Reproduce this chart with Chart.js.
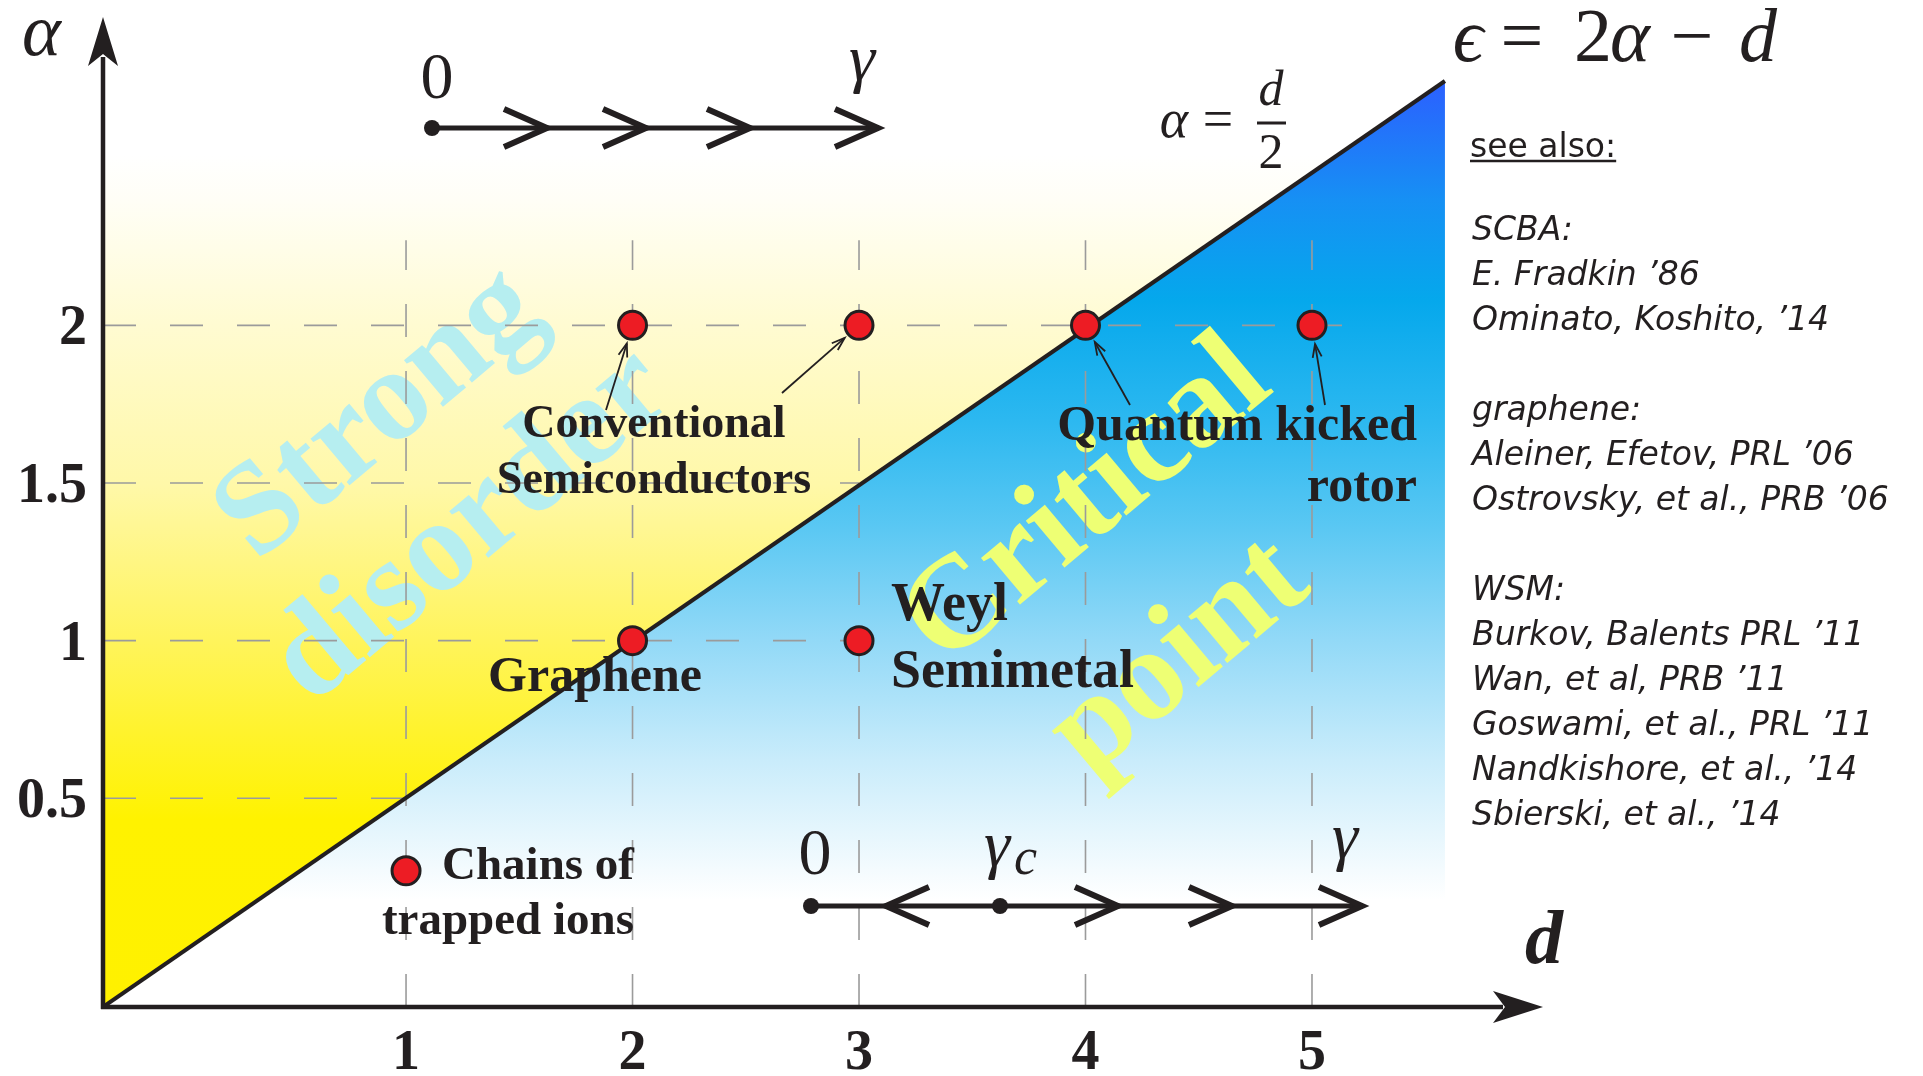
<!DOCTYPE html>
<html>
<head>
<meta charset="utf-8">
<script src="https://cdn.jsdelivr.net/npm/chart.js@4.4.1/dist/chart.umd.min.js"></script>
<style>
html, body { margin: 0; padding: 0; background: #fff; }
#wrap { width: 1923px; height: 1076px; position: relative; }
</style>
</head>
<body>
<div id="wrap"><canvas id="phase-chart"></canvas></div>
<script>
// values
const pointD = [2, 3, 4, 5, 2, 3, 1];
const pointAlpha = [2, 2, 2, 2, 1, 1, 0.27];
const lineD = [-0.338, 5.587];
const lineAlpha = [-0.162, 2.775];
const dTicks = [1, 2, 3, 4, 5];
const dTickLabels = ['1', '2', '3', '4', '5'];
const alphaTicks = [0.5, 1, 1.5, 2];
const alphaTickLabels = ['0.5', '1', '1.5', '2'];
const refLines = ['SCBA:', 'E. Fradkin \u201986', 'Ominato, Koshito, \u201914', '',
    'graphene:', 'Aleiner, Efetov, PRL \u201906', 'Ostrovsky, et al., PRB \u201906', '',
    'WSM:', 'Burkov, Balents PRL \u201911', 'Wan, et al, PRB \u201911', 'Goswami, et al., PRL \u201911',
    'Nandkishore, et al., \u201914', 'Sbierski, et al., \u201914'];

const ink = '#231F20';
const serif = '"Liberation Serif", "DejaVu Serif", serif';
const gridEnds = [1, 3, 3, 5.28];

function linePoints() {
    return lineD.map((d, i) => ({x: d, y: lineAlpha[i]}));
}

// vertical gradients, stops given as pixel rows of the chart area
function vGradient(chart, stops) {
    const area = chart.chartArea;
    if (!area) return null;
    const g = chart.ctx.createLinearGradient(0, area.bottom, 0, area.top);
    const h = area.bottom - area.top;
    stops.forEach(s => g.addColorStop(Math.min(1, Math.max(0, (area.bottom - s[0]) / h)), s[1]));
    return g;
}

function chevron(c, x, y, dir) {
    c.beginPath();
    c.moveTo(x - dir * 43, y - 19);
    c.lineTo(x, y);
    c.lineTo(x - dir * 43, y + 19);
    c.stroke();
}

function dot(c, x, y, r) {
    c.beginPath();
    c.arc(x, y, r, 0, Math.PI * 2);
    c.fill();
}

function pointer(c, x0, y0, x1, y1) {
    const ang = Math.atan2(y1 - y0, x1 - x0);
    c.beginPath(); c.moveTo(x0, y0); c.lineTo(x1, y1); c.stroke();
    c.beginPath();
    c.moveTo(x1 - 14 * Math.cos(ang - 0.33), y1 - 14 * Math.sin(ang - 0.33));
    c.lineTo(x1, y1);
    c.lineTo(x1 - 14 * Math.cos(ang + 0.33), y1 - 14 * Math.sin(ang + 0.33));
    c.stroke();
}

function tilted(c, text, x, y, deg, font, color) {
    c.save();
    c.translate(x, y);
    c.rotate(deg * Math.PI / 180);
    c.font = font; c.fillStyle = color;
    c.textAlign = 'center'; c.textBaseline = 'middle';
    c.fillText(text, 0, 0);
    c.restore();
}

function say(c, text, x, y, font, align) {
    c.font = font; c.textAlign = align || 'left';
    c.fillText(text, x, y);
}

const backdrop = {
    id: 'backdrop',
    beforeDatasetsDraw(chart) {
        const c = chart.ctx, sx = chart.scales.x, sy = chart.scales.y;
        c.save();
        // big faint words
        const wf = 'bold 132px ' + serif;
        tilted(c, 'Strong', 380, 415, -40, wf, '#B6EEF0');
        tilted(c, 'disorder', 472, 527, -40, wf, '#B6EEF0');
        tilted(c, 'Critical', 1088, 503, -40, wf, '#EEFF74');
        tilted(c, 'point', 1180, 658, -40, wf, '#EEFF74');

        // dashed guide lines
        c.strokeStyle = '#9B9B9B';
        c.lineWidth = 1.6;
        c.setLineDash([33, 34]);
        dTicks.forEach(d => {
            const X = sx.getPixelForValue(d);
            c.beginPath();
            c.moveTo(X, sy.getPixelForValue(sy.min));
            c.lineTo(X, sy.getPixelForValue(2.27));
            c.stroke();
        });
        alphaTicks.forEach((a, i) => {
            const Y = sy.getPixelForValue(a);
            c.beginPath();
            c.moveTo(sx.getPixelForValue(sx.min), Y);
            c.lineTo(sx.getPixelForValue(gridEnds[i]), Y);
            c.stroke();
        });
        c.restore();
    },
    afterDatasetsDraw(chart) {
        const c = chart.ctx, sx = chart.scales.x, sy = chart.scales.y;
        const ca = chart.chartArea;
        c.save();
        c.strokeStyle = ink; c.fillStyle = ink;

        // axes with arrow heads
        c.lineWidth = 4.5;
        c.beginPath();
        c.moveTo(ca.left, ca.bottom + 2); c.lineTo(ca.left, ca.top + 40);
        c.moveTo(ca.left - 2, ca.bottom); c.lineTo(ca.right - 40, ca.bottom);
        c.stroke();
        c.beginPath();
        c.moveTo(ca.left, ca.top); c.lineTo(ca.left + 15, ca.top + 49);
        c.lineTo(ca.left, ca.top + 37); c.lineTo(ca.left - 15, ca.top + 49);
        c.closePath(); c.fill();
        c.beginPath();
        c.moveTo(ca.right, ca.bottom); c.lineTo(ca.right - 50, ca.bottom - 16);
        c.lineTo(ca.right - 38, ca.bottom); c.lineTo(ca.right - 50, ca.bottom + 16);
        c.closePath(); c.fill();

        // tick labels
        const tf = 'bold 56px ' + serif;
        dTicks.forEach((d, i) => say(c, dTickLabels[i], sx.getPixelForValue(d), ca.bottom + 62, tf, 'center'));
        alphaTicks.forEach((a, i) => say(c, alphaTickLabels[i], ca.left - 16, sy.getPixelForValue(a) + 19, tf, 'right'));

        // axis names
        say(c, '\u03B1', 22, 55, 'italic 74px ' + serif);
        say(c, 'd', 1525, 963, 'bold italic 76px ' + serif);

        // flow diagrams
        c.lineWidth = 5;
        c.beginPath(); c.moveTo(432, 128); c.lineTo(877, 128); c.stroke();
        dot(c, 432, 128, 8);
        c.lineWidth = 6;
        [547, 646, 750, 878].forEach(x => chevron(c, x, 128, 1));
        say(c, '0', 437, 98, '66px ' + serif, 'center');
        say(c, '\u03B3', 862, 80, 'italic 66px ' + serif, 'center');

        c.lineWidth = 5;
        c.beginPath(); c.moveTo(811, 906); c.lineTo(1360, 906); c.stroke();
        dot(c, 811, 906, 8);
        dot(c, 1000, 906, 8);
        c.lineWidth = 6;
        chevron(c, 886, 906, -1);
        [1118, 1232, 1362].forEach(x => chevron(c, x, 906, 1));
        say(c, '0', 815, 874, '66px ' + serif, 'center');
        say(c, '\u03B3', 997, 866, 'italic 66px ' + serif, 'center');
        say(c, 'c', 1014, 874, 'italic 52px ' + serif);
        say(c, '\u03B3', 1345, 858, 'italic 66px ' + serif, 'center');

        // thin pointers to the dots
        c.lineWidth = 1.8;
        [[606, 410, 0], [782, 393, 1], [1130, 405, 2], [1325, 405, 3]].forEach(p => {
            const tx = sx.getPixelForValue(pointD[p[2]]), ty = sy.getPixelForValue(pointAlpha[p[2]]);
            const ang = Math.atan2(ty - p[1], tx - p[0]);
            pointer(c, p[0], p[1], tx - 19 * Math.cos(ang), ty - 19 * Math.sin(ang));
        });

        // region labels
        const lf = 'bold 46px ' + serif;
        say(c, 'Conventional', 654, 437, lf, 'center');
        say(c, 'Semiconductors', 654, 493, lf, 'center');
        say(c, 'Graphene', 595, 691, 'bold 50px ' + serif, 'center');
        say(c, 'Chains of', 634, 879, 'bold 47px ' + serif, 'right');
        say(c, 'trapped ions', 634, 934, 'bold 47px ' + serif, 'right');
        say(c, 'Weyl', 891, 620, 'bold 54px ' + serif);
        say(c, 'Semimetal', 891, 687, 'bold 54px ' + serif);
        say(c, 'Quantum kicked', 1417, 440, 'bold 50px ' + serif, 'right');
        say(c, 'rotor', 1417, 501, 'bold 50px ' + serif, 'right');

        // formulas
        const mf = '76px ' + serif, mi = 'italic 76px ' + serif;
        say(c, '\u03F5', 1468, 61, mi, 'center');
        say(c, '=', 1522, 61, mf, 'center');
        say(c, '2', 1593, 61, mf, 'center');
        say(c, '\u03B1', 1630, 61, mi, 'center');
        say(c, '\u2212', 1692, 61, mf, 'center');
        say(c, 'd', 1758, 61, mi, 'center');

        say(c, '\u03B1', 1174, 137, 'italic 54px ' + serif, 'center');
        say(c, '=', 1218, 137, '54px ' + serif, 'center');
        say(c, 'd', 1271, 105, 'italic 50px ' + serif, 'center');
        say(c, '2', 1271, 168, '50px ' + serif, 'center');
        c.lineWidth = 3;
        c.beginPath(); c.moveTo(1257, 123); c.lineTo(1286, 123); c.stroke();

        // references
        c.font = '33px "DejaVu Sans", sans-serif';
        c.textAlign = 'left';
        c.fillText('see also:', 1470, 157);
        const w = c.measureText('see also:').width;
        c.lineWidth = 2.5;
        c.beginPath(); c.moveTo(1470, 161); c.lineTo(1470 + w, 161); c.stroke();
        c.font = 'oblique 33px "DejaVu Sans", sans-serif';
        refLines.forEach((t, i) => { if (t) c.fillText(t, 1472, 240 + i * 45); });
        c.restore();
    }
};

const canva = document.getElementById('phase-chart');

const data = {
    datasets: [{
        label: 'cases',
        data: pointD.map((d, i) => ({x: d, y: pointAlpha[i]})),
        backgroundColor: '#ED1C24',
        borderColor: ink,
        borderWidth: 3,
        pointRadius: 14,
        showLine: false
    }, {
        type: 'line',
        label: 'alpha = d/2',
        data: linePoints(),
        borderColor: ink,
        borderWidth: 4,
        pointRadius: 0,
        fill: 'start',
        backgroundColor: ctx => vGradient(ctx.chart, [
            [900, '#FFFFFF'], [870, '#F4FBFE'], [760, '#C9ECFB'], [640, '#92D9F7'],
            [530, '#5BC8F3'], [420, '#2CB8F0'], [300, '#05A8EC'], [200, '#1690F4'], [79, '#2C5FFF']
        ])
    }, {
        type: 'line',
        label: 'upper side',
        data: linePoints(),
        borderWidth: 0,
        pointRadius: 0,
        fill: 'end',
        backgroundColor: ctx => vGradient(ctx.chart, [
            [1007, '#FFF100'], [820, '#FFF200'], [640, '#FFF45C'], [486, '#FFF8A8'],
            [323, '#FFFBD2'], [250, '#FFFDE8'], [200, '#FFFEF6'], [155, '#FFFFFF']
        ])
    }]
};

const config = {
    type: 'scatter',
    data: data,
    options: {
        responsive: true,
        maintainAspectRatio: false,
        animation: false,
        events: [],
        layout: {padding: {left: 103, top: 15, right: 380, bottom: 69}},
        scales: {
            x: {type: 'linear', min: -0.338, max: 6.02, display: false},
            y: {type: 'linear', min: -0.162, max: 2.978, display: false}
        },
        plugins: {
            legend: {display: false},
            tooltip: {enabled: false},
            filler: {drawTime: 'beforeDraw'}
        }
    },
    plugins: [backdrop]
};

const phase_chart = new Chart(canva, config);
</script>
</body>
</html>
